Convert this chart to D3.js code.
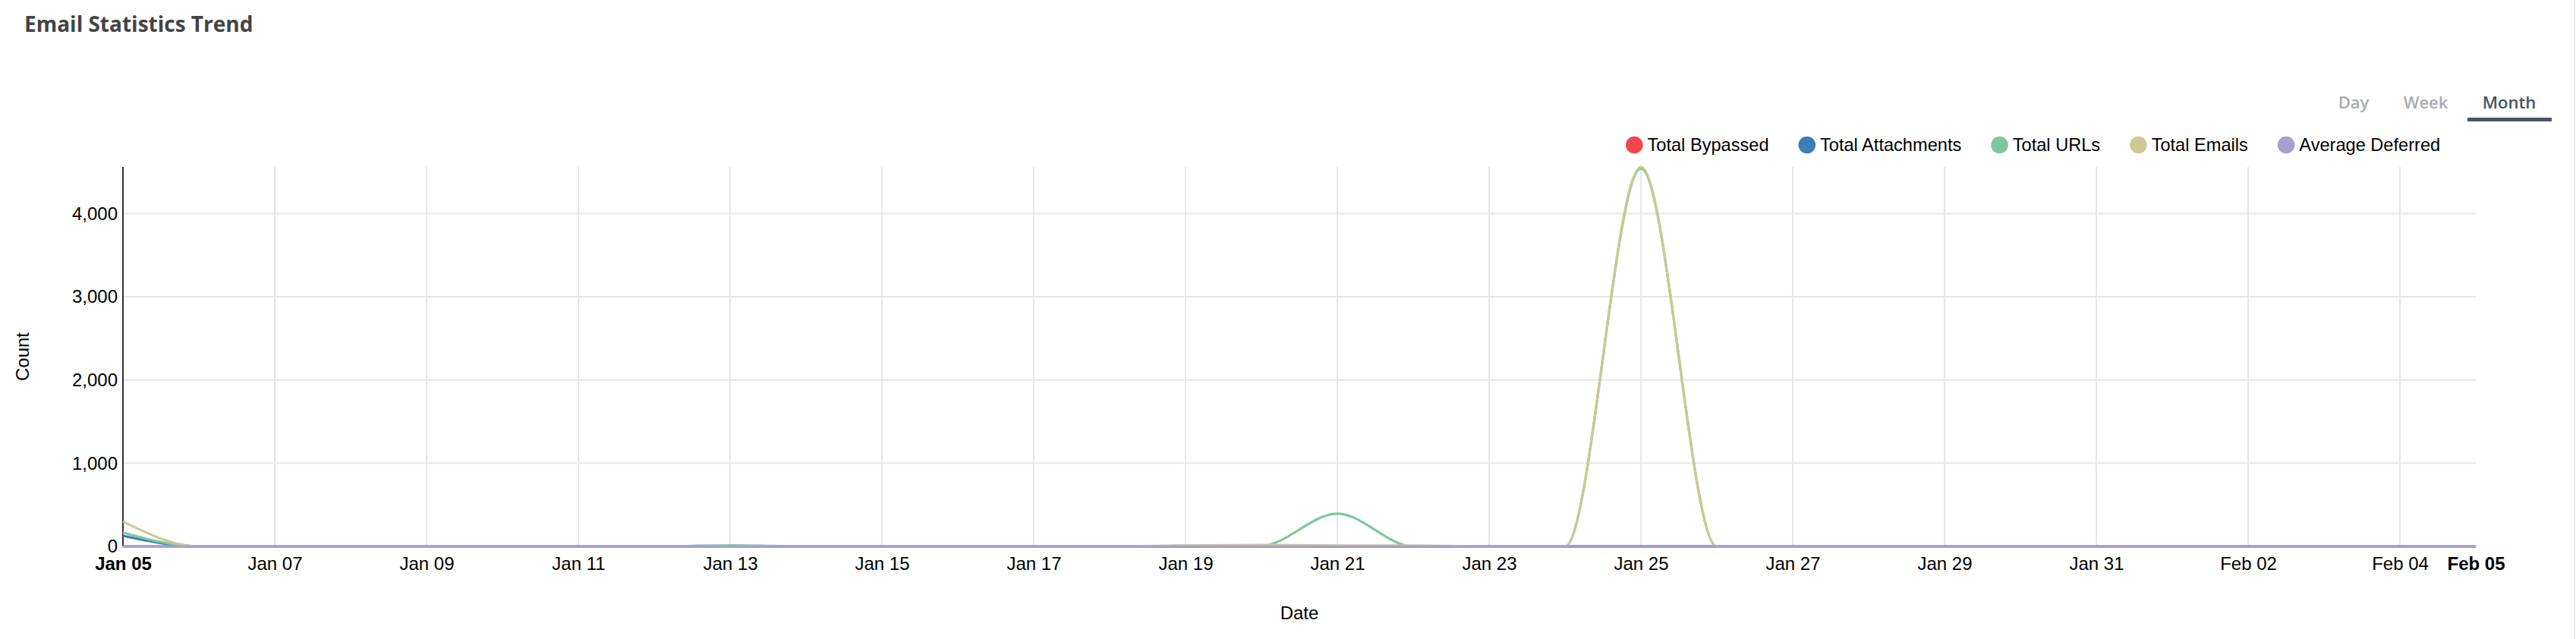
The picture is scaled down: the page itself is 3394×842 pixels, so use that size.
<!DOCTYPE html>
<html>
<head>
<meta charset="utf-8">
<script src="https://cdn.jsdelivr.net/npm/d3@7"></script>
<style>
  html, body { margin: 0; padding: 0; background: #fff; }
  svg { display: block; }
  .tick-label { font-family: "Liberation Sans", Arial, sans-serif; font-size: 24px; fill: #000; }
  .legend-text { font-family: "Liberation Sans", Arial, sans-serif; font-size: 23.6px; fill: #000; }
  .grid line { stroke: #e6e6e6; stroke-width: 2; }
</style>
</head>
<body>
<div id="chart"></div>
<script>
// ---- data ----
const dates = [
  "2025-01-05", "2025-01-06", "2025-01-07", "2025-01-08", "2025-01-09", "2025-01-10",
  "2025-01-11", "2025-01-12", "2025-01-13", "2025-01-14", "2025-01-15", "2025-01-16",
  "2025-01-17", "2025-01-18", "2025-01-19", "2025-01-20", "2025-01-21", "2025-01-22",
  "2025-01-23", "2025-01-24", "2025-01-25", "2025-01-26", "2025-01-27", "2025-01-28",
  "2025-01-29", "2025-01-30", "2025-01-31", "2025-02-01", "2025-02-02", "2025-02-03",
  "2025-02-04", "2025-02-05"
];

const totalBypassed    = [0, 0, 0, 0, 0, 0, 0, 0, 0, 0, 0, 0, 0, 0, 0, 0, 0, 0, 0, 0, 0, 0, 0, 0, 0, 0, 0, 0, 0, 0, 0, 0];
const totalAttachments = [128, 0, 0, 0, 0, 0, 0, 0, 0, 0, 0, 0, 0, 0, 0, 0, 0, 0, 0, 0, 0, 0, 0, 0, 0, 0, 0, 0, 0, 0, 0, 0];
const totalURLs        = [167, 0, 0, 0, 0, 0, 0, 0, 12, 0, 0, 0, 0, 0, 0, 8, 393, 0, 0, 0, 4540, 0, 0, 0, 0, 0, 0, 0, 0, 0, 0, 0];
const totalEmails      = [300, 0, 0, 0, 0, 0, 0, 0, 0, 0, 0, 0, 0, 0, 12, 18, 10, 10, 0, 0, 4560, 0, 0, 0, 0, 0, 0, 0, 0, 0, 0, 0];
const averageDeferred  = [0, 0, 0, 0, 0, 0, 0, 0, 0, 0, 0, 0, 0, 0, 0, 0, 0, 0, 0, 0, 0, 0, 0, 0, 0, 0, 0, 0, 0, 0, 0, 0];

const seriesNames  = ["Total Bypassed", "Total Attachments", "Total URLs", "Total Emails", "Average Deferred"];
const seriesColors = ["#f4464f", "#3b7db5", "#7dc79c", "#cdc894", "#a69fd0"];
const seriesValues = [totalBypassed, totalAttachments, totalURLs, totalEmails, averageDeferred];

const tabs = ["Day", "Week", "Month"];
const activeTab = "Month";

// ---- layout ----
const width = 3394;
const height = 842;
const plot = { left: 162, right: 3262, top: 220, bottom: 720 };

const parseDate = d3.timeParse("%Y-%m-%d");
const dayList = dates.map(parseDate);

const svg = d3.select("#chart")
  .append("svg")
  .attr("width", width)
  .attr("height", height);

// right border of the card
svg.append("line")
  .attr("x1", 3392).attr("x2", 3392)
  .attr("y1", 0).attr("y2", height)
  .attr("stroke", "#e8e8e8")
  .attr("stroke-width", 2);

// title
svg.append("text")
  .attr("x", 32)
  .attr("y", 42)
  .style("font-family", "'Open Sans', sans-serif")
  .style("font-weight", 700)
  .style("font-size", "28px")
  .style("fill", "#444")
  .text("Email Statistics Trend");

// Day / Week / Month tabs
const tabCenters = [3101, 3196, 3306];
const tabGroup = svg.append("g");
tabs.forEach((t, i) => {
  tabGroup.append("text")
    .attr("x", tabCenters[i])
    .attr("y", 143)
    .attr("text-anchor", "middle")
    .style("font-family", "'Open Sans', sans-serif")
    .style("font-weight", 600)
    .style("font-size", "22px")
    .style("fill", t === activeTab ? "#4a5260" : "#a8abb0")
    .text(t);
});
tabGroup.append("rect")
  .attr("x", 3251)
  .attr("y", 155)
  .attr("width", 111)
  .attr("height", 5)
  .attr("fill", "#4e5561");

// scales
const x = d3.scaleTime()
  .domain(d3.extent(dayList))
  .range([plot.left, plot.right]);

const allValues = seriesValues.flat();
const y = d3.scaleLinear()
  .domain([0, d3.max(allValues)])
  .range([plot.bottom, plot.top]);

// x ticks every second day from the start, plus the final day
const xTicks = d3.timeDay.range(dayList[0], dayList[dayList.length - 1], 2);
const lastDay = dayList[dayList.length - 1];
const fmt = d3.timeFormat("%b %d");

// grid
const gridX = svg.append("g").attr("class", "grid");
gridX.selectAll("line")
  .data(xTicks.slice(1))
  .enter()
  .append("line")
  .attr("x1", (d) => x(d))
  .attr("x2", (d) => x(d))
  .attr("y1", plot.top)
  .attr("y2", plot.bottom);

const yTicks = y.ticks(5);
const gridY = svg.append("g").attr("class", "grid");
gridY.selectAll("line")
  .data(yTicks.slice(1))
  .enter()
  .append("line")
  .attr("x1", plot.left)
  .attr("x2", plot.right)
  .attr("y1", (d) => y(d))
  .attr("y2", (d) => y(d));

// y axis
const yAxis = svg.append("g")
  .attr("transform", `translate(${plot.left},0)`)
  .call(d3.axisLeft(y).tickValues(yTicks).tickFormat(d3.format(",")).tickSize(0).tickPadding(7));
yAxis.select(".domain")
  .attr("d", `M0,${plot.top}V${plot.bottom}`)
  .attr("stroke", "#333")
  .attr("stroke-width", 2);
yAxis.selectAll("text")
  .attr("class", "tick-label")
  .attr("fill", "#000");
yAxis.attr("font-size", null).attr("font-family", null);

// x axis
const xAxis = svg.append("g")
  .attr("transform", `translate(0,${plot.bottom})`)
  .call(d3.axisBottom(x).tickValues(xTicks.concat([lastDay])).tickFormat(fmt).tickSize(0).tickPadding(14));
xAxis.select(".domain").remove();
xAxis.attr("font-size", null).attr("font-family", null);
xAxis.selectAll("text")
  .attr("class", "tick-label")
  .attr("fill", "#000")
  .attr("dy", "0.71em")
  .style("font-weight", (d) => (+d === +dayList[0] || +d === +lastDay ? 700 : 400));

// axis titles
svg.append("text")
  .attr("class", "tick-label")
  .attr("transform", "translate(38,470) rotate(-90)")
  .attr("text-anchor", "middle")
  .text("Count");

svg.append("text")
  .attr("class", "tick-label")
  .attr("x", (plot.left + plot.right) / 2)
  .attr("y", 816)
  .attr("text-anchor", "middle")
  .text("Date");

// lines
const line = d3.line()
  .x((d, i) => x(dayList[i]))
  .y((d) => y(d))
  .curve(d3.curveMonotoneX);

svg.append("g")
  .selectAll("path")
  .data(seriesValues)
  .enter()
  .append("path")
  .attr("d", (d) => line(d))
  .attr("fill", "none")
  .attr("stroke", (d, i) => seriesColors[i])
  .attr("stroke-width", 3.2)
  .attr("stroke-linejoin", "round");

// legend
const legend = svg.append("g").attr("transform", "translate(2142,191)");
let cursor = 0;
seriesNames.forEach((name, i) => {
  const item = legend.append("g").attr("transform", `translate(${cursor},0)`);
  item.append("circle")
    .attr("cx", 11.3)
    .attr("cy", 0)
    .attr("r", 11.3)
    .attr("fill", seriesColors[i]);
  const label = item.append("text")
    .attr("class", "legend-text")
    .attr("x", 28.5)
    .attr("y", 8)
    .text(name);
  cursor += 28.5 + label.node().getComputedTextLength() + 39;
});
</script>
</body>
</html>
